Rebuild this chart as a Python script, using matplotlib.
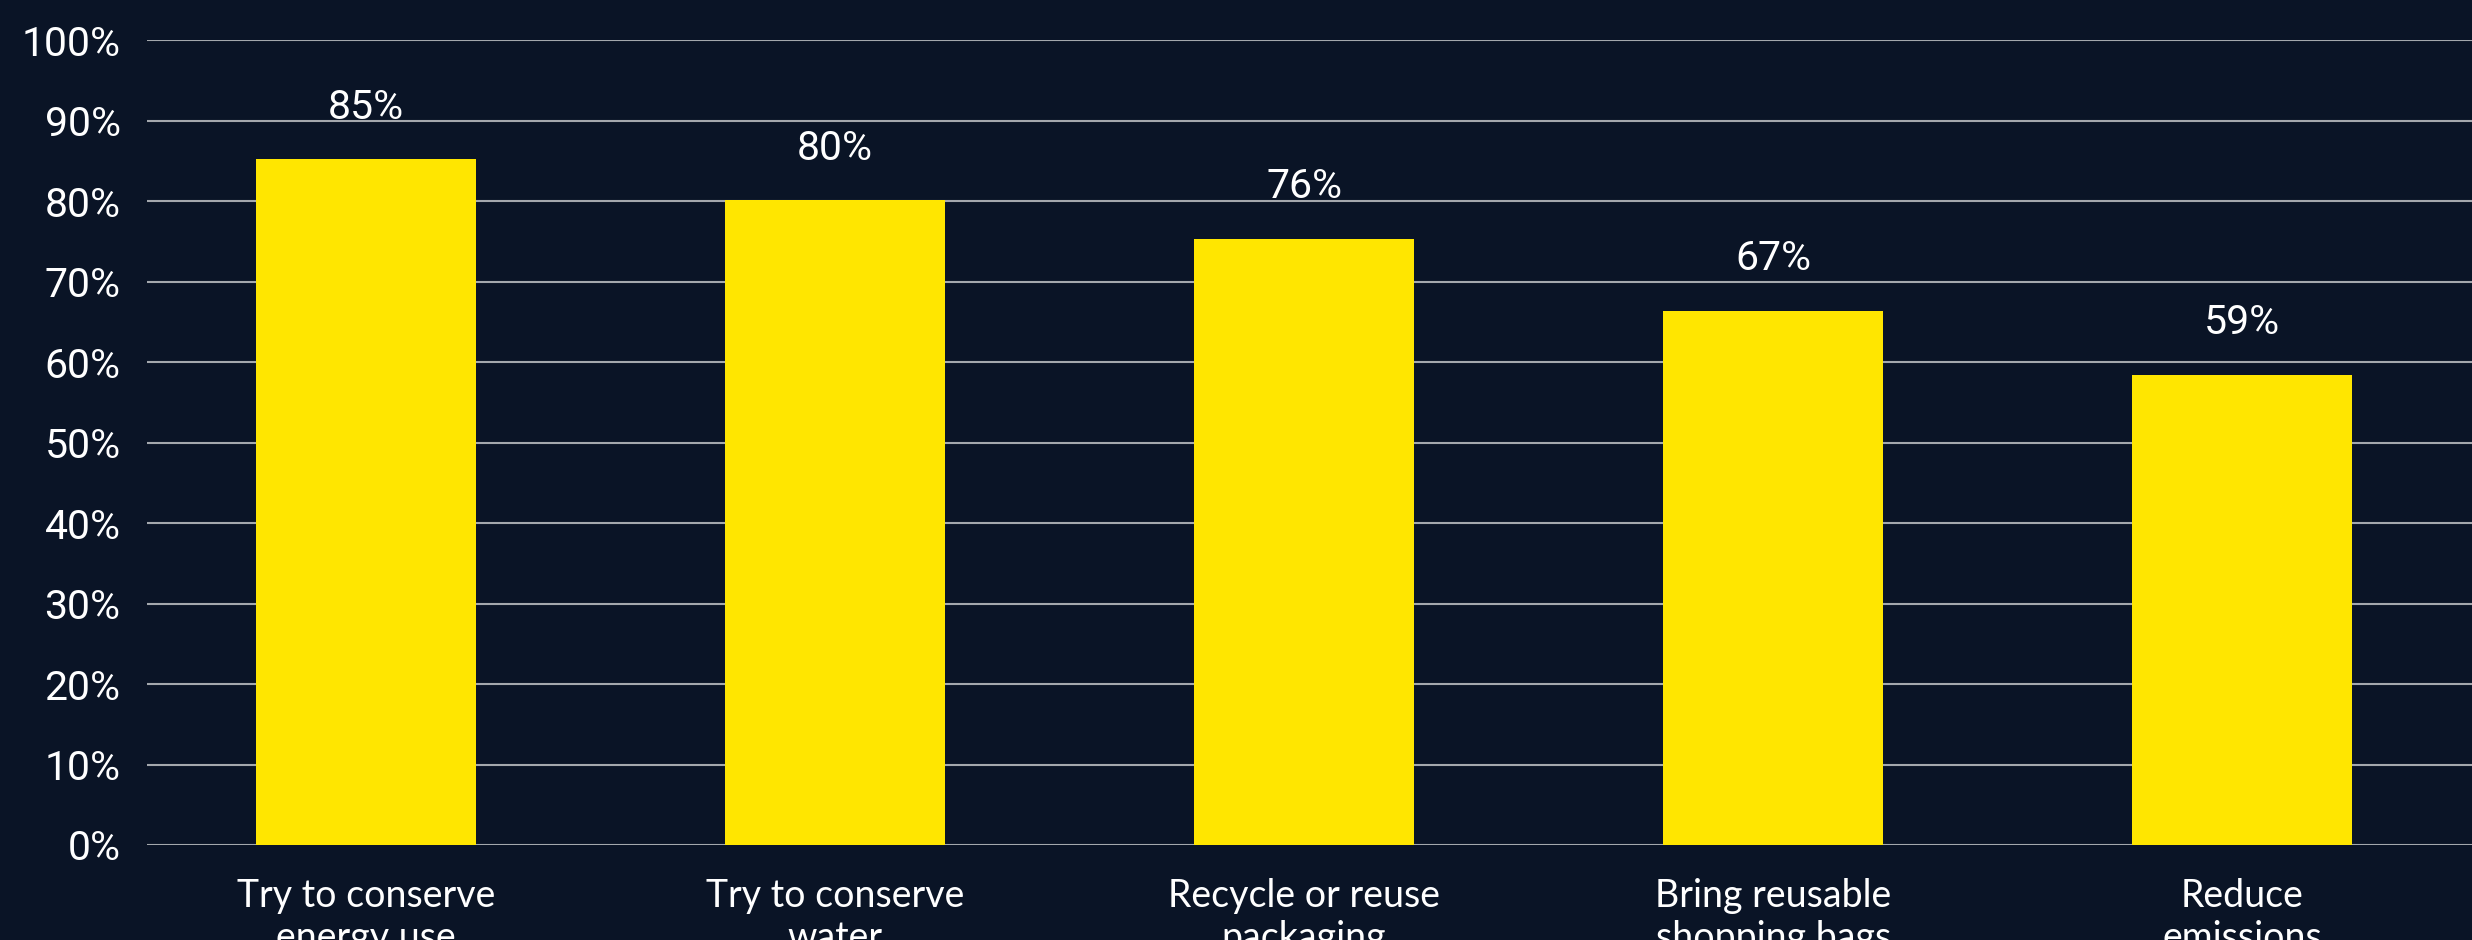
import numpy as np
import matplotlib.pyplot as plt

# data
categories = ['Try to conserve\nenergy use', 'Try to conserve\nwater',
              'Recycle or reuse\npackaging', 'Bring reusable\nshopping bags',
              'Reduce\nemissions']
values = [85.2, 80.1, 75.3, 66.4, 58.4]
value_labels = ['85%', '80%', '76%', '67%', '59%']
yticks = [0, 10, 20, 30, 40, 50, 60, 70, 80, 90, 100]

bg = '#0a1426'
yellow = '#ffe600'
grid_col = '#a4a8ad'

fig = plt.figure(figsize=(24.72, 9.4), dpi=100, facecolor=bg)
ax = fig.add_axes([147 / 2472, 95 / 940, 1 - 147 / 2472, (845 - 40.3) / 940])
ax.set_facecolor(bg)

x = np.arange(len(categories))
ax.bar(x, values, width=0.469, color=yellow, zorder=3)

# value labels above the bars
for xi, v, lab in zip(x, values, value_labels):
    ax.annotate(lab, (xi, v), xytext=(0, 37.5), textcoords='offset points',
                ha='center', va='center', color='white', fontsize=29.5,
                family='Roboto')

ax.set_xlim(-0.467, 4.49)
ax.set_ylim(0, 100)
ax.set_yticks(yticks)
ax.set_yticklabels([f'{t}%' for t in yticks], family='Roboto',
                   fontsize=29.5, color='white')
ax.set_xticks(x)
ax.set_xticklabels(categories, family='Lato', fontsize=27,
                   color='white', linespacing=1.2)
ax.tick_params(axis='y', length=0, pad=19)
ax.tick_params(axis='x', length=0, pad=24)

ax.grid(axis='y', color=grid_col, linewidth=1.5, zorder=0)
for s in ax.spines.values():
    s.set_visible(False)

plt.savefig('out.png', dpi=100, facecolor=bg)
plt.close()
